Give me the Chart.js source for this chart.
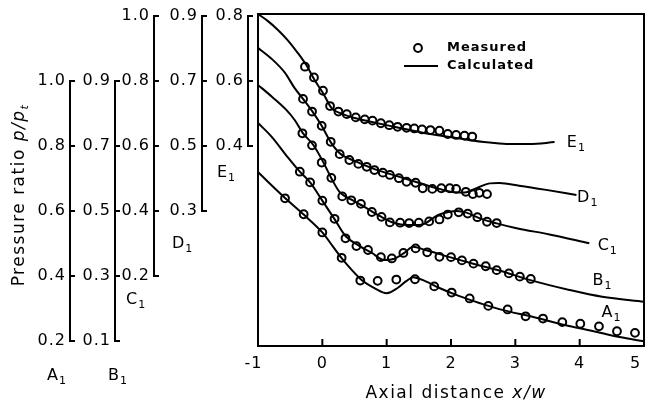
<!DOCTYPE html>
<html lang="en">
<head>
  <meta charset="UTF-8">
  <title>Pressure ratio along the axial distance</title>
  <script src="https://cdn.jsdelivr.net/npm/chart.js"></script>
  <style>
    html, body { margin: 0; padding: 0; background: #fff; }
    #wrap { width: 646px; height: 410px; }
  </style>
</head>
<body>
  <div id="wrap"><canvas id="chart" width="646" height="410"></canvas></div>

  <script>
    // axial distance x/w ticks
    const xTicks = [-1, 0, 1, 2, 3, 4, 5];

    // tick values of the five pressure-ratio scales
    const tickA = [0.2, 0.4, 0.6, 0.8, 1.0];
    const tickB = [0.1, 0.3, 0.5, 0.7, 0.9];
    const tickC = [0.2, 0.4, 0.6, 0.8, 1.0];
    const tickD = [0.3, 0.5, 0.7, 0.9];
    const tickE = [0.4, 0.6, 0.8];

    // measured points [x/w, p/pt], each on its own scale
    const measuredA = [[-0.58,0.639],[-0.29,0.590],[0.00,0.534],[0.30,0.456],[0.59,0.386],[0.86,0.385],[1.15,0.389],[1.44,0.390],[1.74,0.368],[2.01,0.349],[2.29,0.331],[2.58,0.308],[2.88,0.297],[3.16,0.276],[3.43,0.269],[3.73,0.258],[4.01,0.253],[4.30,0.245],[4.58,0.230],[4.86,0.225]];
    const measuredB = [[-0.35,0.621],[-0.19,0.588],[0.00,0.532],[0.19,0.476],[0.36,0.416],[0.53,0.392],[0.71,0.380],[0.91,0.358],[1.08,0.354],[1.26,0.371],[1.45,0.385],[1.63,0.373],[1.82,0.359],[2.00,0.358],[2.17,0.348],[2.35,0.338],[2.54,0.330],[2.71,0.318],[2.90,0.308],[3.07,0.298],[3.24,0.291]];
    const measuredC = [[-0.31,0.639],[-0.16,0.602],[-0.01,0.549],[0.14,0.502],[0.31,0.445],[0.45,0.433],[0.60,0.422],[0.77,0.397],[0.92,0.382],[1.05,0.365],[1.21,0.364],[1.35,0.363],[1.50,0.364],[1.66,0.368],[1.82,0.374],[1.95,0.389],[2.12,0.396],[2.26,0.392],[2.41,0.381],[2.56,0.367],[2.71,0.363]];
    const measuredD = [[-0.30,0.645],[-0.16,0.606],[-0.01,0.562],[0.13,0.513],[0.27,0.475],[0.42,0.457],[0.56,0.445],[0.69,0.436],[0.81,0.426],[0.94,0.418],[1.05,0.411],[1.19,0.401],[1.31,0.390],[1.45,0.387],[1.56,0.370],[1.71,0.368],[1.85,0.370],[1.98,0.370],[2.08,0.368],[2.23,0.359],[2.34,0.352],[2.44,0.356],[2.56,0.352]];
    const measuredE = [[-0.27,0.644],[-0.13,0.611],[0.01,0.570],[0.12,0.523],[0.25,0.506],[0.38,0.498],[0.52,0.488],[0.66,0.482],[0.78,0.478],[0.91,0.470],[1.04,0.464],[1.17,0.459],[1.31,0.456],[1.43,0.454],[1.55,0.451],[1.68,0.449],[1.82,0.447],[1.95,0.437],[2.08,0.434],[2.21,0.432],[2.33,0.429]];

    // calculated curves
    const calcA = [[-1,0.720],[-0.81,0.683],[-0.58,0.640],[-0.29,0.589],[0.00,0.534],[0.16,0.492],[0.30,0.455],[0.46,0.418],[0.61,0.388],[0.81,0.363],[1.00,0.347],[1.17,0.363],[1.31,0.385],[1.41,0.396],[1.59,0.385],[1.82,0.363],[2.13,0.338],[2.44,0.317],[2.75,0.298],[3.34,0.271],[3.77,0.249],[4.20,0.231],[4.62,0.212],[5.00,0.199]];
    const calcB = [[-1,0.771],[-0.79,0.729],[-0.54,0.666],[-0.35,0.621],[-0.19,0.588],[0.00,0.532],[0.19,0.475],[0.36,0.423],[0.58,0.392],[0.77,0.371],[0.96,0.349],[1.12,0.353],[1.28,0.372],[1.41,0.390],[1.59,0.381],[1.98,0.358],[2.36,0.337],[2.75,0.317],[3.22,0.288],[3.84,0.257],[4.35,0.236],[5.00,0.221]];
    const calcC = [[-1,0.788],[-0.78,0.751],[-0.56,0.711],[-0.43,0.680],[-0.30,0.639],[-0.14,0.603],[0.01,0.552],[0.14,0.501],[0.27,0.458],[0.46,0.434],[0.66,0.412],[0.89,0.385],[1.12,0.363],[1.33,0.357],[1.54,0.358],[1.80,0.388],[1.98,0.398],[2.09,0.400],[2.24,0.395],[2.44,0.378],[2.71,0.362],[3.02,0.347],[3.53,0.328],[4.15,0.301]];
    const calcD = [[-1,0.802],[-0.77,0.765],[-0.58,0.725],[-0.43,0.678],[-0.30,0.645],[-0.15,0.605],[-0.01,0.562],[0.13,0.512],[0.27,0.478],[0.50,0.454],[0.81,0.429],[1.20,0.405],[1.51,0.386],[1.82,0.368],[2.05,0.358],[2.21,0.357],[2.44,0.374],[2.60,0.385],[2.75,0.386],[3.06,0.378],[3.48,0.365],[3.95,0.349]];
    const calcE = [[-1,0.806],[-0.85,0.785],[-0.69,0.757],[-0.54,0.726],[-0.38,0.686],[-0.24,0.646],[-0.12,0.603],[0.01,0.563],[0.15,0.515],[0.27,0.502],[0.50,0.486],[0.77,0.474],[1.05,0.462],[1.36,0.449],[1.67,0.437],[1.98,0.428],[2.29,0.418],[2.60,0.411],[2.91,0.406],[3.22,0.406],[3.61,0.412]];

    const FONT = "'DejaVu Sans', sans-serif";
    const toXY = arr => arr.map(p => ({x: p[0], y: p[1]}));

    // all five scales share one pixel size, each shifted by 0.1
    const shift = {yA: 0, yB: 0.1, yC: 0.2, yD: 0.3, yE: 0.4};
    function yScale(id) {
      return {display: false, min: 0.1846 - shift[id], max: 1.2062 - shift[id]};
    }

    function measured(data, axis) {
      return {
        type: 'scatter', data: toXY(data), yAxisID: axis,
        pointRadius: 3.9, pointBorderWidth: 2, pointBorderColor: '#000',
        pointBackgroundColor: 'rgba(0,0,0,0)', showLine: false
      };
    }
    function calculated(data, axis) {
      return {
        type: 'line', data: toXY(data), yAxisID: axis,
        borderColor: '#000', borderWidth: 2, pointRadius: 0,
        cubicInterpolationMode: 'monotone', fill: false
      };
    }

    function drawSub(ctx, txt, sub, x, y) {
      ctx.font = `16px ${FONT}`;
      ctx.textAlign = 'left';
      ctx.textBaseline = 'middle';
      ctx.fillText(txt, x, y);
      const w = ctx.measureText(txt).width;
      ctx.font = `11px ${FONT}`;
      ctx.fillText(sub, x + w, y + 5);
    }

    const brackets = [
      {scale: 'yA', x: 70, ticks: tickA, name: 'A', lx: 47, ly: 376},
      {scale: 'yB', x: 115, ticks: tickB, name: 'B', lx: 108, ly: 376},
      {scale: 'yC', x: 154, ticks: tickC, name: 'C', lx: 126, ly: 300},
      {scale: 'yD', x: 202, ticks: tickD, name: 'D', lx: 172, ly: 244},
      {scale: 'yE', x: 248, ticks: tickE, name: 'E', lx: 217, ly: 173}
    ];
    // curve names at the right, in data units of each curve
    const curveNames = [
      {scale: 'yA', name: 'A', x: 4.34, y: 0.286},
      {scale: 'yB', name: 'B', x: 4.20, y: 0.285},
      {scale: 'yC', name: 'C', x: 4.28, y: 0.292},
      {scale: 'yD', name: 'D', x: 3.96, y: 0.340},
      {scale: 'yE', name: 'E', x: 3.80, y: 0.409}
    ];

    const decor = {
      id: 'decor',
      beforeDraw(chart) {
        chart.ctx.letterSpacing = '1px';
      },
      afterDraw(chart) {
        const {ctx, chartArea: a, scales} = chart;
        ctx.save();
        ctx.letterSpacing = '1px';
        ctx.strokeStyle = '#000';
        ctx.fillStyle = '#000';
        ctx.lineWidth = 2;

        // frame + inner ticks
        ctx.strokeRect(a.left, a.top, a.right - a.left, a.bottom - a.top);
        xTicks.forEach(v => {
          const px = scales.x.getPixelForValue(v);
          ctx.beginPath();
          ctx.moveTo(px, a.bottom);
          ctx.lineTo(px, a.bottom - 7);
          ctx.stroke();
        });

        // the five bracket scales on the left
        brackets.forEach(b => {
          const s = scales[b.scale];
          const top = s.getPixelForValue(Math.max(...b.ticks));
          const bot = s.getPixelForValue(Math.min(...b.ticks));
          ctx.beginPath();
          ctx.moveTo(b.x, top);
          ctx.lineTo(b.x, bot);
          b.ticks.forEach(v => {
            const py = s.getPixelForValue(v);
            ctx.moveTo(b.x - 1, py);
            ctx.lineTo(b.x + 5, py);
          });
          ctx.stroke();
          ctx.font = `16px ${FONT}`;
          ctx.textAlign = 'right';
          ctx.textBaseline = 'middle';
          b.ticks.forEach(v => ctx.fillText(v.toFixed(1), b.x - 4, s.getPixelForValue(v)));
          drawSub(ctx, b.name, '1', b.lx, b.ly);
        });

        curveNames.forEach(c => {
          drawSub(ctx, c.name, '1', scales.x.getPixelForValue(c.x), scales[c.scale].getPixelForValue(c.y));
        });

        // legend
        ctx.lineWidth = 2;
        ctx.beginPath();
        ctx.arc(418, 48, 3.9, 0, Math.PI * 2);
        ctx.stroke();
        ctx.beginPath();
        ctx.moveTo(404, 66);
        ctx.lineTo(438, 66);
        ctx.stroke();
        ctx.font = `bold 13px ${FONT}`;
        ctx.textAlign = 'left';
        ctx.textBaseline = 'middle';
        ctx.fillText('Measured', 447, 48);
        ctx.fillText('Calculated', 447, 66);

        // x title
        ctx.letterSpacing = '1.5px';
        ctx.font = `17px ${FONT}`;
        const t1 = 'Axial distance ';
        const w1 = ctx.measureText(t1).width;
        ctx.font = `italic 17px ${FONT}`;
        const w2 = ctx.measureText('x/w').width;
        let sx = 456 - (w1 + w2) / 2;
        ctx.font = `17px ${FONT}`;
        ctx.fillText(t1, sx, 394);
        ctx.font = `italic 17px ${FONT}`;
        ctx.fillText('x/w', sx + w1, 394);

        // y title
        ctx.translate(20, 195);
        ctx.rotate(-Math.PI / 2);
        ctx.font = `17px ${FONT}`;
        const p1 = 'Pressure ratio ';
        const q1 = ctx.measureText(p1).width;
        ctx.font = `italic 17px ${FONT}`;
        const q2 = ctx.measureText('p/p').width;
        ctx.font = `italic 11px ${FONT}`;
        const q3 = ctx.measureText('t').width;
        sx = -(q1 + q2 + q3) / 2;
        ctx.font = `17px ${FONT}`;
        ctx.fillText(p1, sx, 0);
        ctx.font = `italic 17px ${FONT}`;
        ctx.fillText('p/p', sx + q1, 0);
        ctx.font = `italic 11px ${FONT}`;
        ctx.fillText('t', sx + q1 + q2, 5);
        ctx.restore();
      }
    };

    new Chart(document.getElementById('chart'), {
      type: 'scatter',
      data: {
        datasets: [
          calculated(calcA, 'yA'), calculated(calcB, 'yB'), calculated(calcC, 'yC'),
          calculated(calcD, 'yD'), calculated(calcE, 'yE'),
          measured(measuredA, 'yA'), measured(measuredB, 'yB'), measured(measuredC, 'yC'),
          measured(measuredD, 'yD'), measured(measuredE, 'yE')
        ]
      },
      options: {
        responsive: false,
        animation: false,
        layout: {padding: {left: 258, right: 2, top: 14, bottom: 0}, autoPadding: false},
        plugins: {legend: {display: false}, tooltip: {enabled: false}},
        scales: {
          x: {
            type: 'linear', min: -1, max: 5,
            grid: {display: false, drawTicks: false},
            border: {display: false},
            afterBuildTicks: s => { s.ticks = xTicks.map(v => ({value: v})); },
            afterFit: s => { s.height = 64; s.paddingLeft = 0; s.paddingRight = 0; },
            ticks: {
              color: '#000', padding: 8, maxRotation: 0, autoSkip: false,
              font: {family: FONT, size: 16},
              callback: v => v === 5 ? '5\u2003' : v === -1 ? '-1\u2002' : String(v)
            }
          },
          yA: yScale('yA'), yB: yScale('yB'), yC: yScale('yC'),
          yD: yScale('yD'), yE: yScale('yE')
        }
      },
      plugins: [decor]
    });
  </script>
</body>
</html>
